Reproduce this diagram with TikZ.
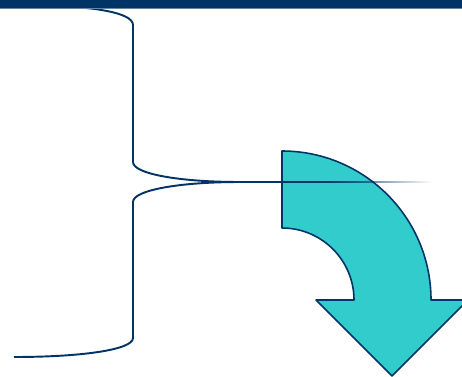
\documentclass[tikz,border=0pt]{standalone}
\usepackage{xcolor}
\definecolor{mlnavy}{RGB}{0,51,102}
\definecolor{mlteal}{RGB}{51,204,204}
\usetikzlibrary{fadings}

\begin{document}
\begin{tikzpicture}[x=0.02cm,y=0.02cm,line join=round]
  \useasboundingbox (0,0) rectangle (462,376);
  %% Brace
  \coordinate (tip) at (240,194);
  \draw[mlnavy,line width=1.1pt]
    (15,371) .. controls (90,371) and (133,364) .. (133,351)
    -- (133,214) .. controls (133,202) and (180,194) .. (tip)
    .. controls (180,194) and (133,186) .. (133,174)
    -- (133,38) .. controls (133,26) and (80,19) .. (14,19);
  %% Curved arrow
  \draw[mlnavy,fill=mlteal,line width=0.9pt]
    (282,225) arc[start angle=90,end angle=0,radius=149]
    -- (468,76) -- (392,0) -- (316,76) -- (354,76)
    arc[start angle=0,end angle=90,radius=72] -- cycle;
  %% Fading line from brace tip
  \coordinate (fadestart) at (325,194);
  \draw[mlnavy,line width=1.1pt] (tip) -- (fadestart);
  \fill[mlnavy,path fading=east] (324,193) rectangle (432,195);
  %% Top bar
  \fill[mlnavy] (0,368) rectangle (462,376);
  \draw[mlnavy!60,line width=0.3pt] (0,368) -- (462,368);
\end{tikzpicture}
\end{document}
